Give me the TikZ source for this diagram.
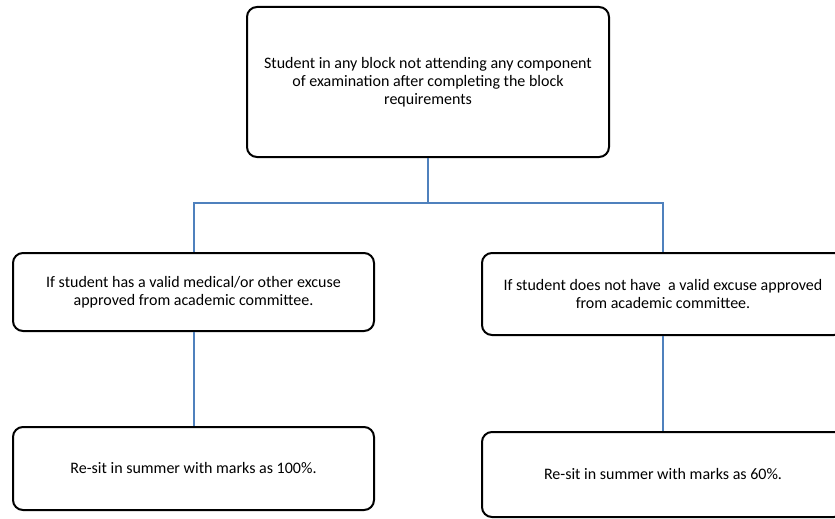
\documentclass[tikz,border=0pt]{standalone}
\usepackage{fontspec}
\setmainfont{Carlito}
\begin{document}
\begin{tikzpicture}[x=1pt,y=-1pt]
\definecolor{linkblue}{HTML}{4F81BD}
\tikzset{
  box/.style={draw=black,line width=2pt,rounded corners=10pt,fill=white,align=center,
    font=\fontsize{16}{18}\selectfont,inner sep=0pt},
  link/.style={draw=linkblue,line width=2pt}}
\useasboundingbox (0,0) rectangle (835,519);
\begin{scope}
\clip (0,0) rectangle (835,519);
\node[box,minimum width=362pt,minimum height=150pt] (top) at (428,82) {Student in any block not attending any component\\of examination after completing the block\\requirements};
\node[box,minimum width=361pt,minimum height=78pt] (lm) at (193.5,292) {If student has a valid medical/or other excuse\\approved from academic committee.};
\node[box,minimum width=362pt,minimum height=82pt] (rm) at (663,294) {If student does not have\ \ a valid excuse approved\\from academic committee.};
\node[box,minimum width=361pt,minimum height=83pt] (lb) at (193.5,468.5) {Re-sit in summer with marks as 100\%.};
\node[box,minimum width=362pt,minimum height=85pt] (rb) at (663,474.5) {Re-sit in summer with marks as 60\%.};
\coordinate (j) at (428,203);
\draw[link] (top.south) -- (j);
\draw[link] (lm.north) |- (j) -| (rm.north);
\draw[link] (lm.south) -- (lb.north);
\draw[link] (rm.south) -- (rb.north);
\end{scope}
\end{tikzpicture}
\end{document}
